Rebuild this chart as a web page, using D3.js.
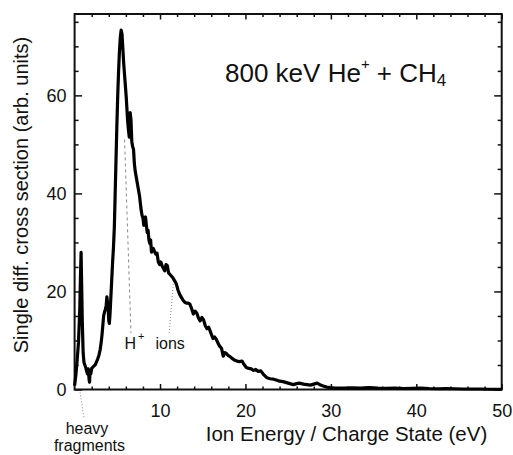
<!DOCTYPE html>
<html>
<head>
<meta charset="utf-8">
<script src="https://cdn.jsdelivr.net/npm/d3@7/dist/d3.min.js"></script>
<style>
body{margin:0;background:#fff;}
svg{display:block;font-family:"Liberation Sans",Arial,Helvetica,sans-serif;}
</style>
</head>
<body>
<script>
//data
const energy=[
0.0,0.15,0.3,0.45,0.6,0.7,0.76,0.82,0.9,1.0,
1.1,1.2,1.3,1.4,1.5,1.6,1.7,1.75,1.8,1.9,
2.0,2.1,2.25,2.4,2.55,2.7,2.85,3.0,3.1,3.2,
3.3,3.4,3.5,3.6,3.7,3.78,3.85,3.92,4.0,4.07,
4.15,4.25,4.35,4.45,4.55,4.65,4.75,4.85,4.95,5.05,
5.15,5.25,5.35,5.45,5.55,5.65,5.75,5.9,6.05,6.2,
6.3,6.4,6.5,6.6,6.7,6.8,6.9,7.0,7.1,7.2,
7.35,7.5,7.6,7.7,7.8,7.9,8.0,8.1,8.2,8.3,
8.4,8.5,8.6,8.7,8.8,8.9,9.0,9.1,9.2,9.35,
9.5,9.65,9.8,9.95,10.1,10.25,10.4,10.55,10.7,10.85,
11.0,11.15,11.3,11.5,11.7,11.9,12.1,12.3,12.5,12.7,
12.9,13.1,13.3,13.5,13.7,13.9,14.1,14.3,14.5,14.7,
14.9,15.1,15.3,15.5,15.7,15.85,16.0,16.2,16.4,16.6,
16.8,17.0,17.2,17.4,17.6,17.8,18.0,18.2,18.4,18.7,
19.0,19.3,19.6,19.8,20.1,20.4,20.7,20.9,21.2,21.5,
21.8,22.1,22.5,22.9,23.3,23.7,24.0,24.4,24.8,25.2,
25.6,26.0,26.3,26.8,27.2,27.6,28.0,28.4,28.8,29.1,
29.5,29.9,30.5,31.5,32.5,33.5,34.5,35.5,36.5,37.5,
38.5,39.5,40.5,41.5,42.5,43.5,44.5,45.5,46.5,47.5,
48.5,49.5,50
]
const crossSection=[
0.8,3,6,9.5,16,24,28,22,14,7.5,
5.5,5,4.5,3.8,3.2,4.2,2,1.5,3.5,3.2,
4.3,4.5,4.8,5,5.6,6.2,7,8.2,9.5,11,
13,15,15.8,16.3,17.2,18.9,17.8,17,14,13.5,
15.5,19,22.5,26,29,33,40,47,54,60,
65,69,71.8,73.3,72.5,69.5,66.5,63,59.5,55,
53,51.5,56.5,55,50.5,49.5,49,46,44.5,43.5,
42,40.5,39.5,38,36.5,35.5,35,33.5,34.5,35.2,
33.5,32,32.5,30.5,29.8,30.5,28,28.5,28.8,28.2,
27.6,27.8,26,25.5,26,25.2,24.7,24.2,25.5,25.3,
23.8,23.5,23.2,22.8,22.2,21.6,20.3,19.4,18.8,18.2,
17.8,17.6,17.6,17.4,16.5,15.4,16,15.6,14.6,14,
14.7,14.2,13,12.4,12.7,12,11.3,10.4,10.7,10.2,
9.4,8.8,8.4,6.8,7.5,7.3,6.9,6.7,6.4,6.0,
5.8,5.7,5.8,5.2,4.5,4.3,4.2,3.9,4.1,3.7,
3.8,3.1,2.4,2.2,2.1,1.9,1.7,1.6,1.4,1.2,
1.0,1.2,1.3,1.1,1.0,0.9,1.1,1.3,0.9,0.7,
0.5,0.4,0.3,0.3,0.35,0.3,0.4,0.3,0.25,0.3,
0.2,0.25,0.3,0.2,0.15,0.2,0.15,0.1,0.1,0.1,
0.05,0.05,0.05
]
const xTickLabels=[10,20,30,40,50]
const yTickLabels=[0,20,40,60]
const title="800 keV He"
const xTitle="Ion Energy / Charge State (eV)"
const yTitle="Single diff. cross section (arb. units)"

const w=513, h=455
const svg=d3.select("body").append("svg").attr("width",w).attr("height",h)

//scales
const x=d3.scaleLinear().domain([0,50]).range([74.6,501.7])
const y=d3.scaleLinear().domain([0,76.6]).range([389.5,14])

const data=energy.map((e,i)=>({e:e,v:crossSection[i]}))

//frame
svg.append("rect")
    .attr("x",x(0)).attr("y",y(76.6))
    .attr("width",x(50)-x(0)).attr("height",y(0)-y(76.6))
    .attr("fill","none").attr("stroke","#111").attr("stroke-width",2)

//axes, ticks pointing inward
const xMinor=d3.range(0,51,2).filter(d=>d%10!==0)
const yMinor=d3.range(0,77,5).filter(d=>d%20!==0)

function styleAxis(g){
    g.select(".domain").remove()
    g.selectAll("line").attr("stroke","#111").attr("stroke-width",1.5)
    g.selectAll("text").attr("fill","#111").style("font-size","18px")
}

svg.append("g").attr("transform","translate(0,"+y(0)+")")
    .call(d3.axisBottom(x).tickValues(xTickLabels).tickSize(-5.5).tickPadding(15).tickFormat(d3.format("d")))
    .call(styleAxis)
svg.append("g").attr("transform","translate(0,"+y(0)+")")
    .call(d3.axisBottom(x).tickValues(xMinor).tickSize(-3).tickFormat(""))
    .call(styleAxis)
svg.append("g").attr("transform","translate(0,"+y(76.6)+")")
    .call(d3.axisTop(x).tickValues(xTickLabels).tickSize(-5.5).tickFormat(""))
    .call(styleAxis)
svg.append("g").attr("transform","translate(0,"+y(76.6)+")")
    .call(d3.axisTop(x).tickValues(xMinor).tickSize(-3).tickFormat(""))
    .call(styleAxis)

svg.append("g").attr("transform","translate("+x(0)+",0)")
    .call(d3.axisLeft(y).tickValues(yTickLabels).tickSize(-7.5).tickPadding(8).tickFormat(d3.format("d")))
    .call(styleAxis)
svg.append("g").attr("transform","translate("+x(0)+",0)")
    .call(d3.axisLeft(y).tickValues(yMinor).tickSize(-4).tickFormat(""))
    .call(styleAxis)
svg.append("g").attr("transform","translate("+x(50)+",0)")
    .call(d3.axisRight(y).tickValues(yTickLabels).tickSize(-7.5).tickFormat(""))
    .call(styleAxis)
svg.append("g").attr("transform","translate("+x(50)+",0)")
    .call(d3.axisRight(y).tickValues(yMinor).tickSize(-4).tickFormat(""))
    .call(styleAxis)

//annotation guide lines
svg.append("line")
    .attr("x1",x(5.85)).attr("y1",y(51)).attr("x2",x(6.6)).attr("y2",y(11.5))
    .attr("stroke","#888").attr("stroke-width",1).attr("stroke-dasharray","3,3")
svg.append("line")
    .attr("x1",x(11.55)).attr("y1",y(21.5)).attr("x2",x(11.05)).attr("y2",y(11.2))
    .attr("stroke","#888").attr("stroke-width",1).attr("stroke-dasharray","1,2")
svg.append("line")
    .attr("x1",x(0.64)).attr("y1",y(-0.6)).attr("x2",x(1.1)).attr("y2",y(-5.8))
    .attr("stroke","#888").attr("stroke-width",1).attr("stroke-dasharray","1,2")

//spectrum
const line=d3.line().x(d=>x(d.e)).y(d=>y(d.v))
svg.append("path")
    .datum(data)
    .attr("d",line)
    .attr("fill","none")
    .attr("stroke","#000")
    .attr("stroke-width",3.2)
    .attr("stroke-linejoin","round")

//labels
const t=svg.append("text").attr("x",225).attr("y",82).style("font-size","26px").attr("fill","#111")
t.append("tspan").text(title)
t.append("tspan").attr("dy",-13).style("font-size","15px").text("+")
t.append("tspan").attr("dy",13).text(" + CH")
t.append("tspan").attr("dy",4).style("font-size","17px").text("4")

const hl=svg.append("text").attr("x",124.5).attr("y",349).style("font-size","16px").attr("fill","#111")
hl.append("tspan").text("H")
hl.append("tspan").attr("dx",2).attr("dy",-9).style("font-size","11px").text("+")
hl.append("tspan").attr("dx",11).attr("dy",9).text("ions")

svg.append("text").attr("x",87).attr("y",434).attr("text-anchor","middle")
    .style("font-size","16px").attr("fill","#111").text("heavy")
svg.append("text").attr("x",89.5).attr("y",450.5).attr("text-anchor","middle")
    .style("font-size","16px").attr("fill","#111").text("fragments")

svg.append("text").attr("x",346.5).attr("y",441).attr("text-anchor","middle")
    .style("font-size","20.5px").attr("fill","#111").text(xTitle)
svg.append("text").attr("transform","translate(28,195) rotate(-90)").attr("text-anchor","middle")
    .style("font-size","20px").attr("fill","#111").text(yTitle)
</script>
</body>
</html>
